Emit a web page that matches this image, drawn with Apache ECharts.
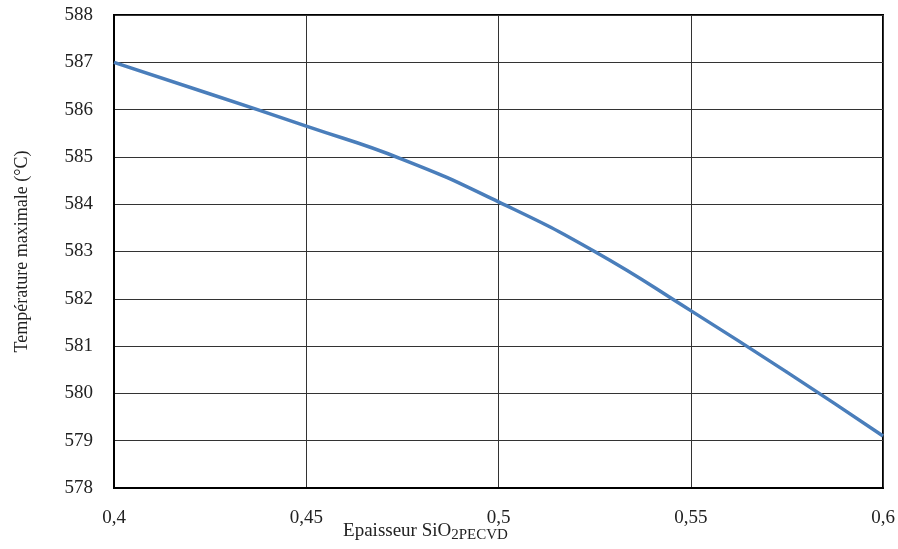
<!DOCTYPE html>
<html>
<head>
<meta charset="utf-8">
<script src="https://cdn.jsdelivr.net/npm/echarts@6/dist/echarts.min.js"></script>
<style>html,body{margin:0;padding:0;background:#fff}#c{width:898px;height:549px}</style>
</head>
<body>
<div id="c"></div>
<script>
const thickness = [0.4, 0.425, 0.45, 0.475, 0.5, 0.525, 0.55, 0.575, 0.6];
const temperature = [587.0, 586.33, 585.65, 584.95, 584.05, 583.0, 581.75, 580.45, 579.1];
const xTitle = 'Epaisseur SiO';
const xTitleSub = '2PECVD';
const yTitle = 'Température maximale (°C)';

const chart = echarts.init(document.getElementById('c'));
const font = 'Liberation Serif, Times New Roman, serif';
chart.setOption({
  animation: false,
  grid: {left: 114, top: 15, width: 769, height: 473, show: true, borderColor: '#000', borderWidth: 2,
    backgroundColor: 'transparent', containLabel: false, outerBoundsMode: 'none'},
  xAxis: {
    type: 'value', min: 0.4, max: 0.6, interval: 0.05,
    axisLine: {show: true, lineStyle: {color: '#000', width: 2}},
    axisTick: {show: false},
    splitLine: {show: true, lineStyle: {color: '#333', width: 1}},
    axisLabel: {color: '#222', fontFamily: font, fontSize: 19, margin: 21,
      formatter: v => String(+v.toFixed(2)).replace('.', ',')},
    name: '{a|' + xTitle + '}{b|' + xTitleSub + '}',
    nameLocation: 'middle', nameGap: 32, nameMoveOverlap: false,
    nameTextStyle: {padding: [0, 146, 0, 0],
      rich: {a: {fontFamily: font, fontSize: 19, color: '#222'},
             b: {fontFamily: font, fontSize: 15, color: '#222', padding: [8, 0, 0, 0]}}}
  },
  yAxis: {
    type: 'value', min: 578, max: 588, interval: 1,
    axisLine: {show: true, lineStyle: {color: '#000', width: 2}},
    axisTick: {show: false},
    splitLine: {show: true, lineStyle: {color: '#333', width: 1}},
    axisLabel: {color: '#222', fontFamily: font, fontSize: 19, margin: 21},
    name: yTitle, nameLocation: 'middle', nameGap: 83, nameRotate: 90, nameMoveOverlap: false,
    nameTextStyle: {fontFamily: font, fontSize: 18, color: '#222'}
  },
  series: [{
    type: 'line', smooth: true, symbol: 'none',
    data: thickness.map((x, i) => [x, temperature[i]]),
    lineStyle: {color: '#4a7ebb', width: 3.5}
  }]
});
</script>
</body>
</html>
